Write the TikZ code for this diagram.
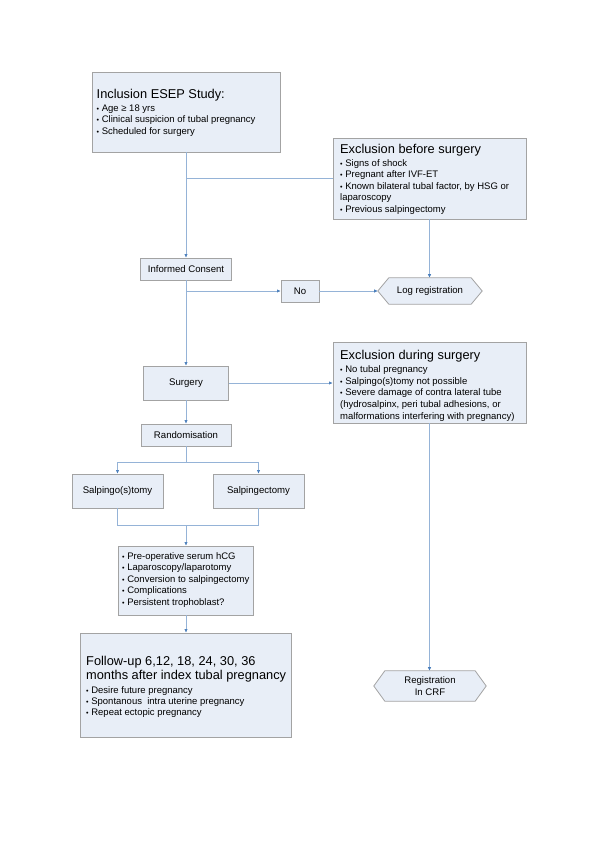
\documentclass[tikz,border=0pt]{standalone}
\usepackage{fontspec}
\setmainfont{Liberation Sans}
\usetikzlibrary{arrows.meta,backgrounds,calc}
\definecolor{boxfill}{HTML}{E8EEF7}
\definecolor{boxdraw}{HTML}{A3A3A3}
\definecolor{linec}{HTML}{95B3D7}
\definecolor{arrc}{HTML}{4A7EBB}
\newcommand\ttlfont{\fontsize{12.8}{14.3}\selectfont}
\newcommand\bdyfont{\fontsize{9.5}{11.6}\selectfont}
\newcommand\fubdyfont{\fontsize{9.5}{10.9}\selectfont}
\newcommand\lblfont{\fontsize{9.6}{11.7}\selectfont}
\newcommand\bul{\leavevmode{\scalebox{0.75}{•}}~}
\begin{document}
\begin{tikzpicture}[x=1pt,y=-1pt,
  box/.style n args={2}{draw=boxdraw,fill=boxfill,line width=0.8pt,inner sep=0pt,
     minimum width=#1,minimum height=#2,font=\lblfont,align=center},
  hexn/.style n args={2}{inner sep=0pt,minimum width=#1,minimum height=#2,
     font=\lblfont,align=center},
  hexdraw/.style={draw=boxdraw,fill=boxfill,line width=0.8pt},
  txt/.style={anchor=base west,inner sep=0pt},
  conn/.style={draw=linec,line width=0.6pt},
  arw/.tip={Latex[length=3.6pt,width=3.4pt,color=arrc]}]
\useasboundingbox (0,0) rectangle (600,849);

% boxes
\node[box={188}{80}] (incl) at (186,112) {};
\node[box={193}{81}] (exb) at (429.5,178.5) {};
\node[box={91}{22}] (ic) at (186,269) {Informed Consent};
\node[box={38}{22}] (no) at (300,291) {No};
\node[hexn={104}{26}] (log) at (430,291) {Log registration};
\node[box={85}{34}] (surg) at (186,383) {Surgery};
\node[box={193}{81}] (exd) at (429.5,382.5) {};
\node[box={90}{22}] (rand) at (186,435) {Randomisation};
\node[box={91}{34}] (sal1) at (117.5,491) {Salpingo(s)tomy};
\node[box={91}{34}] (sal2) at (258.5,491) {Salpingectomy};
\node[box={135}{69}] (bul) at (186,580.5) {};
\node[box={211}{104}] (fu) at (186,685) {};
\node[hexn={112}{30}] (crf) at (430,686) {Registration\\In CRF};

\begin{scope}[on background layer]
\draw[hexdraw] (log.west) -- ([xshift=11pt]log.north west) -- ([xshift=-11pt]log.north east)
  -- (log.east) -- ([xshift=-11pt]log.south east) -- ([xshift=11pt]log.south west) -- cycle;
\draw[hexdraw] (crf.west) -- ([xshift=11pt]crf.north west) -- ([xshift=-11pt]crf.north east)
  -- (crf.east) -- ([xshift=-11pt]crf.south east) -- ([xshift=11pt]crf.south west) -- cycle;
\end{scope}

% box texts
\node[txt] (inclT) at (96.5,98.3) {\parbox[t]{185pt}{\raggedright
  \ttlfont Inclusion ESEP Study:\par\vspace{1.1pt}
  \bdyfont\bul Age ≥ 18 yrs\par
  \bul Clinical suspicion of tubal pregnancy\par
  \bul Scheduled for surgery}};
\node[txt] (exbT) at (340,153.3) {\parbox[t]{190pt}{\raggedright
  \ttlfont Exclusion before surgery\par\vspace{1.1pt}
  \bdyfont\bul Signs of shock\par
  \bul Pregnant after IVF-ET\par
  \bul Known bilateral tubal factor, by HSG or\par
  laparoscopy\par
  \bul Previous salpingectomy}};
\node[txt] (exdT) at (340,359.5) {\parbox[t]{190pt}{\raggedright
  \ttlfont Exclusion during surgery\par\vspace{1.5pt}
  \bdyfont\bul No tubal pregnancy\par
  \bul Salpingo(s)tomy not possible\par
  \bul Severe damage of contra lateral tube\par
  (hydrosalpinx, peri tubal adhesions, or\par
  malformations interfering with pregnancy)}};
\node[txt] (bulT) at (122,559) {\parbox[t]{130pt}{\raggedright
  \bdyfont\bul Pre-operative serum hCG\par
  \bul Laparoscopy/laparotomy\par
  \bul Conversion to salpingectomy\par
  \bul Complications\par
  \bul Persistent trophoblast?}};
\node[txt] (fuT) at (86,665) {\parbox[t]{205pt}{\raggedright
  \ttlfont Follow-up 6,12, 18, 24, 30, 36\par
  months after index tubal pregnancy\par\vspace{3.1pt}
  \fubdyfont\bul Desire future pregnancy\par
  \bul Spontanous\ \ intra uterine pregnancy\par
  \bul Repeat ectopic pregnancy}};

% connectors
\coordinate (j1) at (incl.south |- 0,178);
\coordinate (j2) at (ic.south |- 0,291);
\coordinate (j3) at (rand.south |- 0,462);
\coordinate (j4) at (bul.north |- 0,525);
\draw[conn,-arw] (incl.south) -- (ic.north);
\draw[conn] (j1) -- (j1 -| exb.west);
\draw[conn,-arw] (exb.south) -- (exb.south |- log.north);
\draw[conn,-arw] (ic.south) -- (surg.north);
\draw[conn,-arw] (j2) -- (no.west);
\draw[conn,-arw] (no.east) -- (log.west);
\draw[conn,-arw] (surg.east) -- (surg.east -| exd.west);
\draw[conn,-arw] (surg.south) -- (rand.north);
\draw[conn] (rand.south) -- (j3);
\draw[conn,-arw] (j3) -| (sal1.north);
\draw[conn,-arw] (j3) -| (sal2.north);
\draw[conn] (sal1.south) |- (j4);
\draw[conn] (sal2.south) |- (j4);
\draw[conn,-arw] (j4) -- (bul.north);
\draw[conn,-arw] (bul.south) -- (fu.north);
\draw[conn,-arw] (exd.south) -- (exd.south |- crf.north);
\end{tikzpicture}
\end{document}
